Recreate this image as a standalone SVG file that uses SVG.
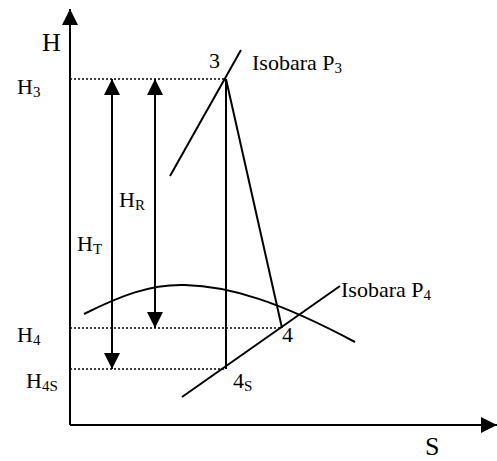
<svg xmlns="http://www.w3.org/2000/svg" width="497" height="461" viewBox="0 0 497 461">
<style>
.ln{stroke:#000;stroke-width:2;fill:none}
.dot{stroke:#000;stroke-width:1.5;stroke-dasharray:2,2;fill:none}
text{font-family:"Liberation Serif","Times New Roman",serif;font-size:22px;fill:#000}
.big{font-size:26px}
.sub{font-size:15px}
</style>
<defs>
<marker id="ah" viewBox="0 0 16 16" refX="16" refY="8" markerWidth="16" markerHeight="16" markerUnits="userSpaceOnUse" orient="auto-start-reverse">
<path d="M0,0 L16,8 L0,16 Z" fill="#000"/>
</marker>
</defs>
<g id="axes">
<line class="ln" x1="70" y1="425" x2="70" y2="9" marker-end="url(#ah)"/>
<line class="ln" x1="70" y1="425" x2="497" y2="425" marker-end="url(#ah)"/>
</g>
<g id="connectors">
<line class="dot" x1="70" y1="79" x2="226" y2="79"/>
<line class="dot" x1="70" y1="328" x2="282" y2="328"/>
<line class="dot" x1="70" y1="369" x2="226" y2="369"/>
<line class="ln" x1="112" y1="369" x2="112" y2="79" marker-start="url(#ah)" marker-end="url(#ah)"/>
<line class="ln" x1="155" y1="328" x2="155" y2="79" marker-start="url(#ah)" marker-end="url(#ah)"/>
<line class="ln" x1="170" y1="176" x2="241" y2="50"/>
<line class="ln" x1="226" y1="79" x2="282" y2="328"/>
<line class="ln" x1="226" y1="79" x2="226" y2="369"/>
<line class="ln" x1="182" y1="397" x2="340" y2="286"/>
<path class="ln" d="M84,314 C120,296 150,284 185,285 C230,286 280,302 355,342" stroke-width="1.8"/>
</g>
<g id="labels">
<text class="big" x="42" y="51">H</text>
<text x="17" y="94">H<tspan class="sub" dy="3">3</tspan></text>
<text x="209" y="68">3</text>
<text x="252" y="70">Isobara P<tspan class="sub" dy="3">3</tspan></text>
<text x="119" y="207">H<tspan class="sub" dy="3">R</tspan></text>
<text x="77" y="251">H<tspan class="sub" dy="3">T</tspan></text>
<text x="17" y="342">H<tspan class="sub" dy="3">4</tspan></text>
<text x="26" y="388">H<tspan class="sub" dy="3">4S</tspan></text>
<text x="233" y="388">4<tspan class="sub" dy="3">S</tspan></text>
<text x="282" y="342">4</text>
<text x="341" y="297">Isobara P<tspan class="sub" dy="3">4</tspan></text>
<text class="big" x="425" y="455">S</text>
</g>
</svg>
